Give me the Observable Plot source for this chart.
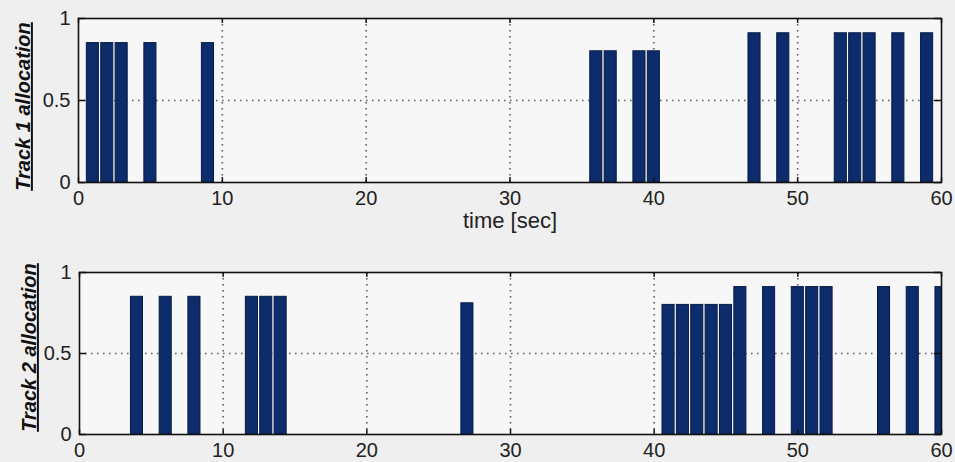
<!DOCTYPE html>
<html>
<head>
<meta charset="utf-8">
<script src="https://cdn.jsdelivr.net/npm/d3@7"></script>
<script src="https://cdn.jsdelivr.net/npm/@observablehq/plot@0.6"></script>
<style>
  html, body { margin: 0; padding: 0; background: #efefef; }
  #chart { width: 955px; height: 462px; overflow: hidden; }
  #chart svg { display: block; background: transparent; }
</style>
</head>
<body>
<div id="chart"></div>
<script>
// ---- data ----
const track1Times  = [1, 2, 3, 5, 9, 36, 37, 39, 40, 47, 49, 53, 54, 55, 57, 59];
const track1Values = [0.85, 0.85, 0.85, 0.85, 0.85, 0.8, 0.8, 0.8, 0.8, 0.91, 0.91, 0.91, 0.91, 0.91, 0.91, 0.91];
const track2Times  = [4, 6, 8, 12, 13, 14, 27, 41, 42, 43, 44, 45, 46, 48, 50, 51, 52, 56, 58, 60];
const track2Values = [0.85, 0.85, 0.85, 0.85, 0.85, 0.85, 0.81, 0.8, 0.8, 0.8, 0.8, 0.8, 0.91, 0.91, 0.91, 0.91, 0.91, 0.91, 0.91, 0.91];
const xTicks = [0, 10, 20, 30, 40, 50, 60];
const xGrid = [10, 20, 30, 40, 50];
const yTicks = [0, 0.5, 1];
const yTickLabels = ["0", "0.5", "1"];
const yLabels = ["Track 1 allocation", "Track 2 allocation"];
const xLabel = "time [sec]";

const barHalf = 0.42;
const font = "Liberation Sans, Arial, sans-serif";

function panel(times, values, opts) {
  const data = times.map((t, i) => ({t, v: values[i]}));
  const tickLen = 0.03;
  const chart = Plot.plot({
    width: 955,
    height: opts.height,
    marginLeft: opts.ml,
    marginRight: opts.mr,
    marginTop: opts.mt,
    marginBottom: opts.mb,
    style: {fontFamily: font, fontSize: "19px", color: "#222", background: "transparent", overflow: "visible"},
    x: {domain: [0, 60]},
    y: {domain: [0, 1]},
    marks: [
      Plot.frame({fill: "#f7f7f7", stroke: null}),
      Plot.ruleX(xGrid, {stroke: "#333", strokeWidth: 1.6, strokeDasharray: "1.5,4.5", strokeOpacity: 0.8}),
      Plot.ruleY([0.5], {stroke: "#333", strokeWidth: 1.6, strokeDasharray: "1.5,4.5", strokeOpacity: 0.8}),
      Plot.rectY(data, {x1: d => d.t - barHalf, x2: d => d.t + barHalf, y: "v", fill: "#0c2c6c", stroke: "#071a44", strokeWidth: 1, clip: true}),
      // inward ticks (bottom/top, left/right)
      Plot.ruleX(xTicks, {y1: 0, y2: tickLen, stroke: "#111", strokeWidth: 1.5}),
      Plot.ruleX(xTicks, {y1: 1 - tickLen, y2: 1, stroke: "#111", strokeWidth: 1.5}),
      Plot.ruleY(yTicks, {x1: 0, x2: 0.5, stroke: "#111", strokeWidth: 1.5}),
      Plot.ruleY(yTicks, {x1: 59.5, x2: 60, stroke: "#111", strokeWidth: 1.5}),
      Plot.frame({stroke: "#111", strokeWidth: 1.6}),
      Plot.axisX(xTicks, {tickSize: 0, tickPadding: opts.xPad, label: null, fontSize: 20}),
      Plot.axisY(yTicks, {tickSize: 0, tickPadding: 8, label: null, tickFormat: d => yTickLabels[yTicks.indexOf(d)], fontSize: 20}),
      Plot.text([opts.yLabel], {frameAnchor: "left", textAnchor: "middle", lineAnchor: "middle", dx: opts.ylDx, dy: opts.ylDy, rotate: -90, fontSize: 20, fontWeight: "bold", fontStyle: "italic", fill: "#111", className: "ylab"}),
      ...(opts.xLabel ? [Plot.text([opts.xLabel], {frameAnchor: "bottom", lineAnchor: "middle", dy: 38, fontSize: 22, fill: "#222"})] : [])
    ]
  });
  d3.select(chart).selectAll(".ylab text").style("text-decoration", "underline");
  return chart;
}

const el = document.getElementById("chart");
el.append(panel(track1Times, track1Values, {height: 240, ml: 78, mr: 14, mt: 18, mb: 58, xPad: 8, yLabel: yLabels[0], ylDx: -55, ylDy: 6, xLabel}));
el.append(panel(track2Times, track2Values, {height: 222, ml: 79, mr: 14, mt: 32, mb: 28, xPad: 8, yLabel: yLabels[1], ylDx: -50, ylDy: -6}));
</script>
</body>
</html>
